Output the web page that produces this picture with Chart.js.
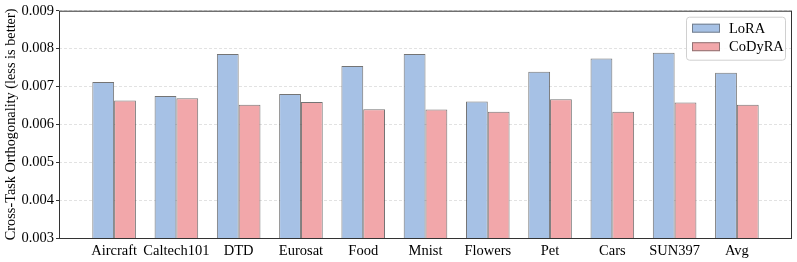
<!DOCTYPE html>
<html>
<head>
<meta charset="utf-8">
<script src="https://cdn.jsdelivr.net/npm/chart.js@4.4.0/dist/chart.umd.min.js"></script>
<style>
  html, body { margin: 0; padding: 0; background: #fff; }
  #wrap { width: 797px; height: 262px; }
</style>
</head>
<body>
<div id="wrap"><canvas id="ortho"></canvas></div>
<script>
// values
const categories = ['Aircraft', 'Caltech101', 'DTD', 'Eurosat', 'Food', 'Mnist', 'Flowers', 'Pet', 'Cars', 'SUN397', 'Avg'];
const loraVals   = [0.00712, 0.00675, 0.00786, 0.00680, 0.00754, 0.00786, 0.00660, 0.00739, 0.00774, 0.00789, 0.00736];
const codyraVals = [0.00663, 0.00669, 0.00652, 0.00659, 0.00640, 0.00639, 0.00633, 0.00666, 0.00633, 0.00658, 0.00652];
const yTicks = [0.003, 0.004, 0.005, 0.006, 0.007, 0.008, 0.009];

const serif = "'Liberation Serif', 'DejaVu Serif', serif";

const toPoints = (vals) => vals.map((v, i) => ({x: i, y: v}));

// box round the plot, like the matplotlib spines
const frame = {
    id: 'frame',
    afterDatasetsDraw(chart) {
        const {ctx, chartArea: a} = chart;
        ctx.save();
        ctx.strokeStyle = '#333';
        ctx.lineWidth = 1;
        ctx.strokeRect(a.left + 0.5, a.top + 0.5, a.right - a.left - 1, a.bottom - a.top);
        ctx.restore();
    }
};

// legend box in the upper right corner
const boxLegend = {
    id: 'boxLegend',
    afterDraw(chart) {
        const {ctx, chartArea: a} = chart;
        const w = 99, h = 43;
        const x = a.right - 7 - w, y = a.top + 6;
        ctx.save();
        ctx.fillStyle = 'rgba(255,255,255,0.85)';
        ctx.strokeStyle = '#d0d0d0';
        ctx.lineWidth = 1;
        ctx.beginPath();
        ctx.roundRect(x + 0.5, y + 0.5, w, h, 3);
        ctx.fill();
        ctx.stroke();
        ctx.font = '14.5px ' + serif;
        ctx.textBaseline = 'middle';
        chart.data.datasets.forEach((ds, k) => {
            const py = y + 7 + k * 18.5;
            ctx.fillStyle = ds.backgroundColor;
            ctx.fillRect(x + 6, py, 28, 9);
            ctx.strokeStyle = 'rgba(80,80,80,0.6)';
            ctx.strokeRect(x + 6.5, py + 0.5, 27, 8);
            ctx.fillStyle = '#000';
            ctx.fillText(ds.label, x + 43, py + 5);
        });
        ctx.restore();
    }
};

new Chart(document.getElementById('ortho'), {
    type: 'bar',
    data: {
        datasets: [
            {
                label: 'LoRA',
                data: toPoints(loraVals),
                backgroundColor: '#a6c1e5',
                borderColor: 'rgba(70,70,70,0.75)',
                borderWidth: 1
            },
            {
                label: 'CoDyRA',
                data: toPoints(codyraVals),
                backgroundColor: '#f2a7aa',
                borderColor: 'rgba(70,70,70,0.75)',
                borderWidth: 1
            }
        ]
    },
    options: {
        responsive: true,
        maintainAspectRatio: false,
        animation: false,
        categoryPercentage: 0.7,
        barPercentage: 1.0,
        layout: { padding: { left: 0, top: 10, right: 5, bottom: 0 } },
        plugins: {
            legend: { display: false },
            tooltip: { enabled: false }
        },
        scales: {
            x: {
                type: 'linear',
                offset: false,
                min: -0.885,
                max: 10.885,
                afterBuildTicks: (scale) => {
                    scale.ticks = categories.map((c, i) => ({value: i}));
                },
                afterFit: (scale) => { scale.height = 24; },
                grid: { display: false, drawTicks: false, offset: false },
                border: { display: false },
                ticks: {
                    autoSkip: false,
                    maxRotation: 0,
                    padding: 4,
                    color: '#000',
                    font: { family: serif, size: 14.5 },
                    callback: (value) => categories[value]
                }
            },
            y: {
                min: 0.003,
                max: 0.009,
                afterBuildTicks: (scale) => {
                    scale.ticks = yTicks.map(v => ({value: v}));
                },
                afterFit: (scale) => { scale.width = 59; },
                grid: {
                    color: '#e2e2e2',
                    tickColor: '#333',
                    tickLength: 3
                },
                border: { display: false, dash: [3, 2] },
                ticks: {
                    padding: 2,
                    color: '#000',
                    font: { family: serif, size: 14.5 },
                    callback: (value) => value.toFixed(3)
                },
                title: {
                    display: true,
                    text: 'Cross-Task Orthogonality (less is better)',
                    color: '#000',
                    font: { family: serif, size: 14.3 },
                    padding: { top: 3, bottom: 0 }
                }
            }
        }
    },
    plugins: [frame, boxLegend]
});
</script>
</body>
</html>
